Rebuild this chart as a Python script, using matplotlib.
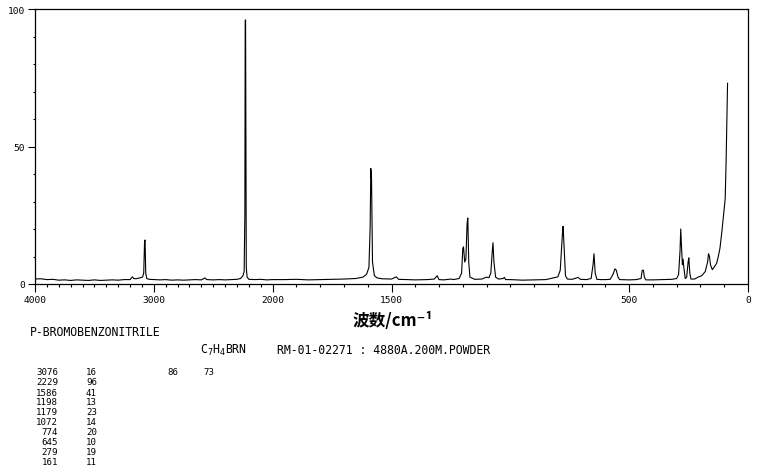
import numpy as np
import matplotlib
matplotlib.use("Agg")
import matplotlib.pyplot as plt
from matplotlib.ticker import FixedLocator, NullFormatter

# ---- data ----
wavenumber = [
    4000, 3950, 3900, 3850, 3800, 3750, 3700, 3650, 3600, 3550, 3500, 3450, 3400,
    3350, 3300, 3250, 3200, 3180, 3170, 3150, 3120, 3095, 3085, 3078, 3074, 3068,
    3060, 3040, 3000, 2950, 2900, 2850, 2800, 2750, 2700, 2650, 2600, 2570, 2555,
    2500, 2450, 2400, 2350, 2300, 2270, 2250, 2240, 2234, 2231, 2228, 2226, 2222,
    2215, 2200, 2150, 2100, 2050, 2000,
    1950, 1900, 1850, 1800, 1750, 1700, 1650, 1620, 1605, 1595, 1590, 1587, 1584,
    1580, 1572, 1560, 1540, 1500, 1480, 1470, 1440, 1400, 1350, 1320, 1308, 1300,
    1280, 1250, 1240, 1215, 1205, 1200, 1197, 1192, 1187, 1182, 1179, 1175, 1170,
    1150, 1120, 1100, 1090, 1082, 1076, 1073, 1069, 1062, 1050, 1030, 1025, 1020,
    1000, 950, 900, 850, 820, 800, 790, 781, 778, 773, 768, 760, 740, 715, 705,
    680, 660, 652, 648, 643, 636, 620, 600, 580, 568, 560, 554, 547, 540, 500,
    470, 450, 445, 440, 436, 430, 400, 350, 320, 300, 292, 286, 283, 280, 276,
    273, 270, 264, 258, 252, 249, 245, 240, 225, 210, 195, 180, 170, 166, 162,
    158, 150, 140, 132, 125, 118, 110, 104, 96, 92, 89, 87, 86,
]
intensity = [
    1.8, 1.9, 1.6, 1.7, 1.4, 1.5, 1.3, 1.5, 1.4, 1.3, 1.5, 1.3, 1.4,
    1.5, 1.4, 1.6, 1.6, 2.6, 2.0, 1.9, 2.2, 2.5, 4.0, 15.5, 16.0, 4.0,
    2.0, 1.7, 1.6, 1.5, 1.6, 1.4, 1.5, 1.4, 1.5, 1.6, 1.5, 2.2, 1.6,
    1.5, 1.6, 1.5, 1.6, 1.7, 2.0, 3.0, 4.5, 25.0, 96.0, 96.0, 70.0, 6.0,
    2.5, 1.7, 1.6, 1.7, 1.5, 1.6,
    1.6, 1.7, 1.5, 1.6, 1.7, 1.8, 2.0, 2.5, 3.5, 6.0, 20.0, 42.0, 38.0,
    8.0, 3.0, 2.2, 1.9, 1.8, 2.6, 1.7, 1.6, 1.5, 1.6, 1.8, 3.0, 1.6,
    1.5, 1.8, 1.6, 2.0, 4.0, 13.0, 13.5, 8.0, 9.0, 22.0, 24.0, 8.0, 2.5,
    1.7, 1.8, 2.5, 2.3, 4.0, 12.0, 15.0, 8.0, 2.5, 1.8, 2.0, 2.4, 1.6,
    1.6, 1.4, 1.5, 1.6, 2.2, 2.6, 5.0, 18.0, 21.0, 12.0, 3.0, 1.8, 1.7, 2.4, 1.7,
    1.6, 2.0, 7.0, 11.0, 4.0, 1.7, 1.6, 1.6, 1.7, 3.5, 5.5, 5.0, 2.5, 1.6, 1.5,
    1.6, 2.0, 5.0, 5.0, 2.5, 1.5, 1.5, 1.6, 1.7, 2.0, 3.5, 12.0, 20.0, 14.0, 7.0,
    9.0, 6.0, 2.0, 2.5, 8.0, 9.5, 4.0, 1.8, 1.8, 2.5, 3.0, 4.5, 8.0, 11.0, 10.0,
    7.0, 5.2, 6.5, 7.5, 10.0, 13.0, 19.0, 24.0, 31.0, 45.0, 60.0, 69.0, 73.0,
]

x_major = [4000, 3000, 2000, 1500, 500, 0]
x_labels = ["4000", "3000", "2000", "1500", "500", "0"]
y_major = [0, 50, 100]
y_labels = ["0", "50", "100"]

title = "P-BROMOBENZONITRILE"
formula = "C$_7$H$_4$BRN"
info = "RM-01-02271 : 4880A.200M.POWDER"
peak_wn = ["3076", "2229", "1586", "1198", "1179", "1072", "774", "645", "279", "161"]
peak_int = ["16", "96", "41", "13", "23", "14", "20", "10", "19", "11"]
extra_wn = "86"
extra_int = "73"

# ---- figure ----
W, H = 761, 477
fig = plt.figure(figsize=(W / 100, H / 100), dpi=100)
ax = fig.add_axes([35 / W, 1 - 285 / H, 713 / W, 275 / H])


def fwd(x):
    x = np.asarray(x, dtype=float)
    return np.where(x > 2000, 2000 + (x - 2000) / 2.0, x)


def inv(y):
    y = np.asarray(y, dtype=float)
    return np.where(y > 2000, 2000 + (y - 2000) * 2.0, y)


ax.set_xscale("function", functions=(fwd, inv))
ax.plot(wavenumber, intensity, color="black", lw=0.8)
ax.set_xlim(4000, 0)
ax.set_ylim(0, 100)

mono = "DejaVu Sans Mono"
ax.xaxis.set_major_locator(FixedLocator(x_major))
ax.set_xticklabels(x_labels, fontsize=6.8, family=mono)
ax.xaxis.set_minor_locator(FixedLocator(list(range(0, 4001, 100))))
ax.xaxis.set_minor_formatter(NullFormatter())
ax.yaxis.set_major_locator(FixedLocator(y_major))
ax.set_yticklabels(y_labels, fontsize=6.8, family=mono)
ax.yaxis.set_minor_locator(FixedLocator(list(range(0, 101, 10))))
ax.yaxis.set_minor_formatter(NullFormatter())

ax.tick_params(axis="x", which="major", length=6, width=0.8, pad=2, direction="out")
ax.tick_params(axis="x", which="minor", length=2.5, width=0.8, direction="out")
ax.tick_params(axis="y", which="major", length=5, width=0.8, pad=2, direction="out")
ax.tick_params(axis="y", which="minor", length=1.8, width=0.8, direction="out")
for s in ax.spines.values():
    s.set_linewidth(0.9)
    s.set_color("black")

# x label
fig.text(393 / W, 1 - 321 / H, "波数/cm⁻¹", ha="center", va="center",
         fontsize=12, family=["Noto Sans CJK SC", "DejaVu Sans"], fontweight="bold")

fig.text(30 / W, 1 - 333 / H, title, ha="left", va="center", fontsize=8.3, family=mono)
fig.text(200 / W, 1 - 350 / H, formula, ha="left", va="center", fontsize=8.3, family=mono)
fig.text(277 / W, 1 - 350 / H, info, ha="left", va="center", fontsize=8.3, family=mono)

for i, (a, b) in enumerate(zip(peak_wn, peak_int)):
    yy = 1 - (373 + 10 * i) / H
    fig.text(58 / W, yy, a, ha="right", va="center", fontsize=6.6, family=mono)
    fig.text(97 / W, yy, b, ha="right", va="center", fontsize=6.6, family=mono)
fig.text(178 / W, 1 - 373 / H, extra_wn, ha="right", va="center", fontsize=6.6, family=mono)
fig.text(214 / W, 1 - 373 / H, extra_int, ha="right", va="center", fontsize=6.6, family=mono)

fig.savefig("out.png", dpi=100)
